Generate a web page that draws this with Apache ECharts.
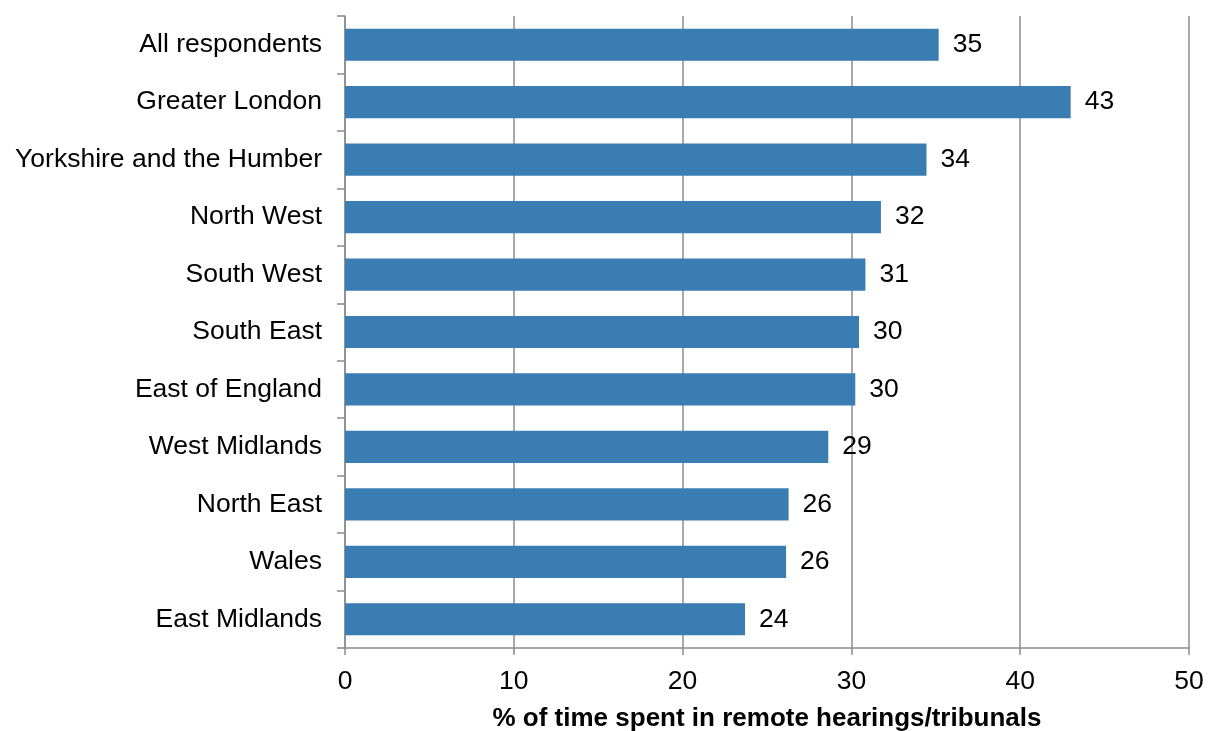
<!DOCTYPE html>
<html>
<head>
<meta charset="utf-8">
<script src="https://cdn.jsdelivr.net/npm/echarts@6/dist/echarts.min.js"></script>
<style>
html,body{margin:0;padding:0;background:#fff;}
#chart{width:1211px;height:731px;}
</style>
</head>
<body>
<div id="chart"></div>
<script>
const categories = ["All respondents","Greater London","Yorkshire and the Humber","North West","South West","South East","East of England","West Midlands","North East","Wales","East Midlands"];
const values = [35.17, 42.99, 34.45, 31.75, 30.83, 30.45, 30.23, 28.63, 26.28, 26.13, 23.70];
const valueLabels = ["35","43","34","32","31","30","30","29","26","26","24"];
const xTicks = [0, 10, 20, 30, 40, 50];
const axisTitle = "% of time spent in remote hearings/tribunals";

const chart = echarts.init(document.getElementById('chart'), null, {renderer: 'canvas'});
const gray = '#8c8c8c';
const font = '"Liberation Sans", Arial, sans-serif';
chart.setOption({
  animation: false,
  grid: {left: 345, right: 22, top: 16, bottom: 83, containLabel: false, outerBoundsMode: 'none'},
  xAxis: {
    type: 'value',
    min: xTicks[0], max: xTicks[xTicks.length - 1], interval: 10,
    name: axisTitle,
    nameLocation: 'middle',
    nameGap: 58,
    nameTextStyle: {fontFamily: font, fontSize: 26, fontWeight: 'bold', color: '#000'},
    axisLine: {show: true, lineStyle: {color: gray, width: 1.5}},
    axisTick: {show: true, length: 7, lineStyle: {color: gray, width: 1.5}},
    axisLabel: {fontFamily: font, fontSize: 26.5, color: '#000', margin: 20},
    splitLine: {show: true, lineStyle: {color: gray, width: 1.5}}
  },
  yAxis: {
    type: 'category',
    data: categories,
    inverse: true,
    axisLine: {show: true, lineStyle: {color: gray, width: 1.5}},
    axisTick: {show: true, length: 8, alignWithLabel: false, lineStyle: {color: gray, width: 1.5}},
    axisLabel: {fontFamily: font, fontSize: 26.5, color: '#000', margin: 23},
    splitLine: {show: false}
  },
  series: [{
    type: 'bar',
    data: values,
    barWidth: '56%',
    itemStyle: {color: '#3a7db3'},
    label: {
      show: true,
      position: 'right',
      distance: 14,
      fontFamily: font,
      fontSize: 26.5,
      color: '#000',
      formatter: p => valueLabels[p.dataIndex]
    }
  }]
});
</script>
</body>
</html>
